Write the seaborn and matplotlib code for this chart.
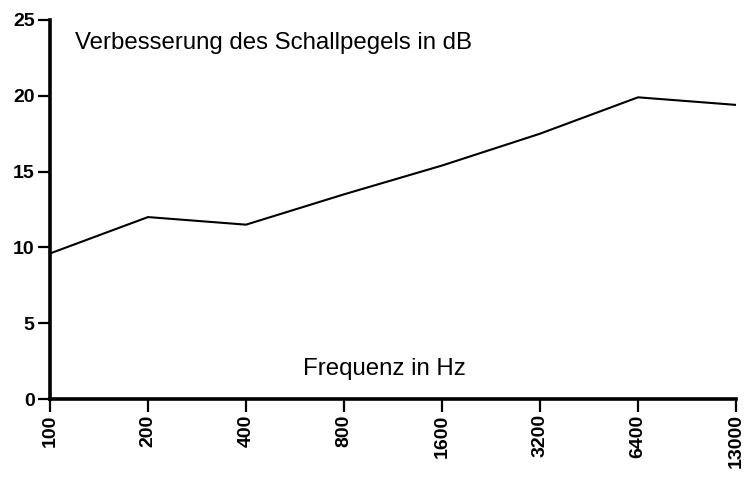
import matplotlib
matplotlib.use("Agg")
import matplotlib.pyplot as plt
import pandas as pd
import seaborn as sns

sns.set_theme(style="ticks")
plt.rcParams['font.family'] = ['Liberation Sans', 'DejaVu Sans']
plt.rcParams['text.color'] = 'black'
plt.rcParams['xtick.color'] = 'black'
plt.rcParams['ytick.color'] = 'black'

# data
freq = ["100", "200", "400", "800", "1600", "3200", "6400", "13000"]
gain_db = [9.6, 12.0, 11.5, 13.5, 15.4, 17.5, 19.9, 19.4]
y_ticks = [0, 5, 10, 15, 20, 25]

df = pd.DataFrame({"freq": freq, "gain": gain_db})

fig = plt.figure(figsize=(7.46, 4.79), dpi=100)
ax = fig.add_axes([50/746, 80/479, 686/746, 379/479])

sns.lineplot(data=df, x="freq", y="gain", color="black", linewidth=1.5, ax=ax, sort=False)

ax.set_xlim(0, len(freq) - 1)
ax.set_ylim(0, 25)
ax.set_yticks(y_ticks)
ax.set_xticks(range(len(freq)))
ax.set_xticklabels(freq, rotation=90, fontsize=14, fontweight="bold")
ax.set_yticklabels([str(t) for t in y_ticks], fontsize=14, fontweight="bold")
ax.tick_params(axis="both", direction="out", length=9, width=1.6, color="black", pad=2)

ax.set_xlabel("")
ax.set_ylabel("")
sns.despine(ax=ax)
for side in ["left", "bottom"]:
    ax.spines[side].set_linewidth(2.6)
    ax.spines[side].set_color("black")

ax.text(0.036, 0.94, "Verbesserung des Schallpegels in dB", transform=ax.transAxes,
        fontsize=17.3, ha="left", va="center", color="black")
ax.text(0.487, 0.08, "Frequenz in Hz", transform=ax.transAxes,
        fontsize=17.3, ha="center", va="center", color="black")

fig.savefig("out.png", dpi=100)
